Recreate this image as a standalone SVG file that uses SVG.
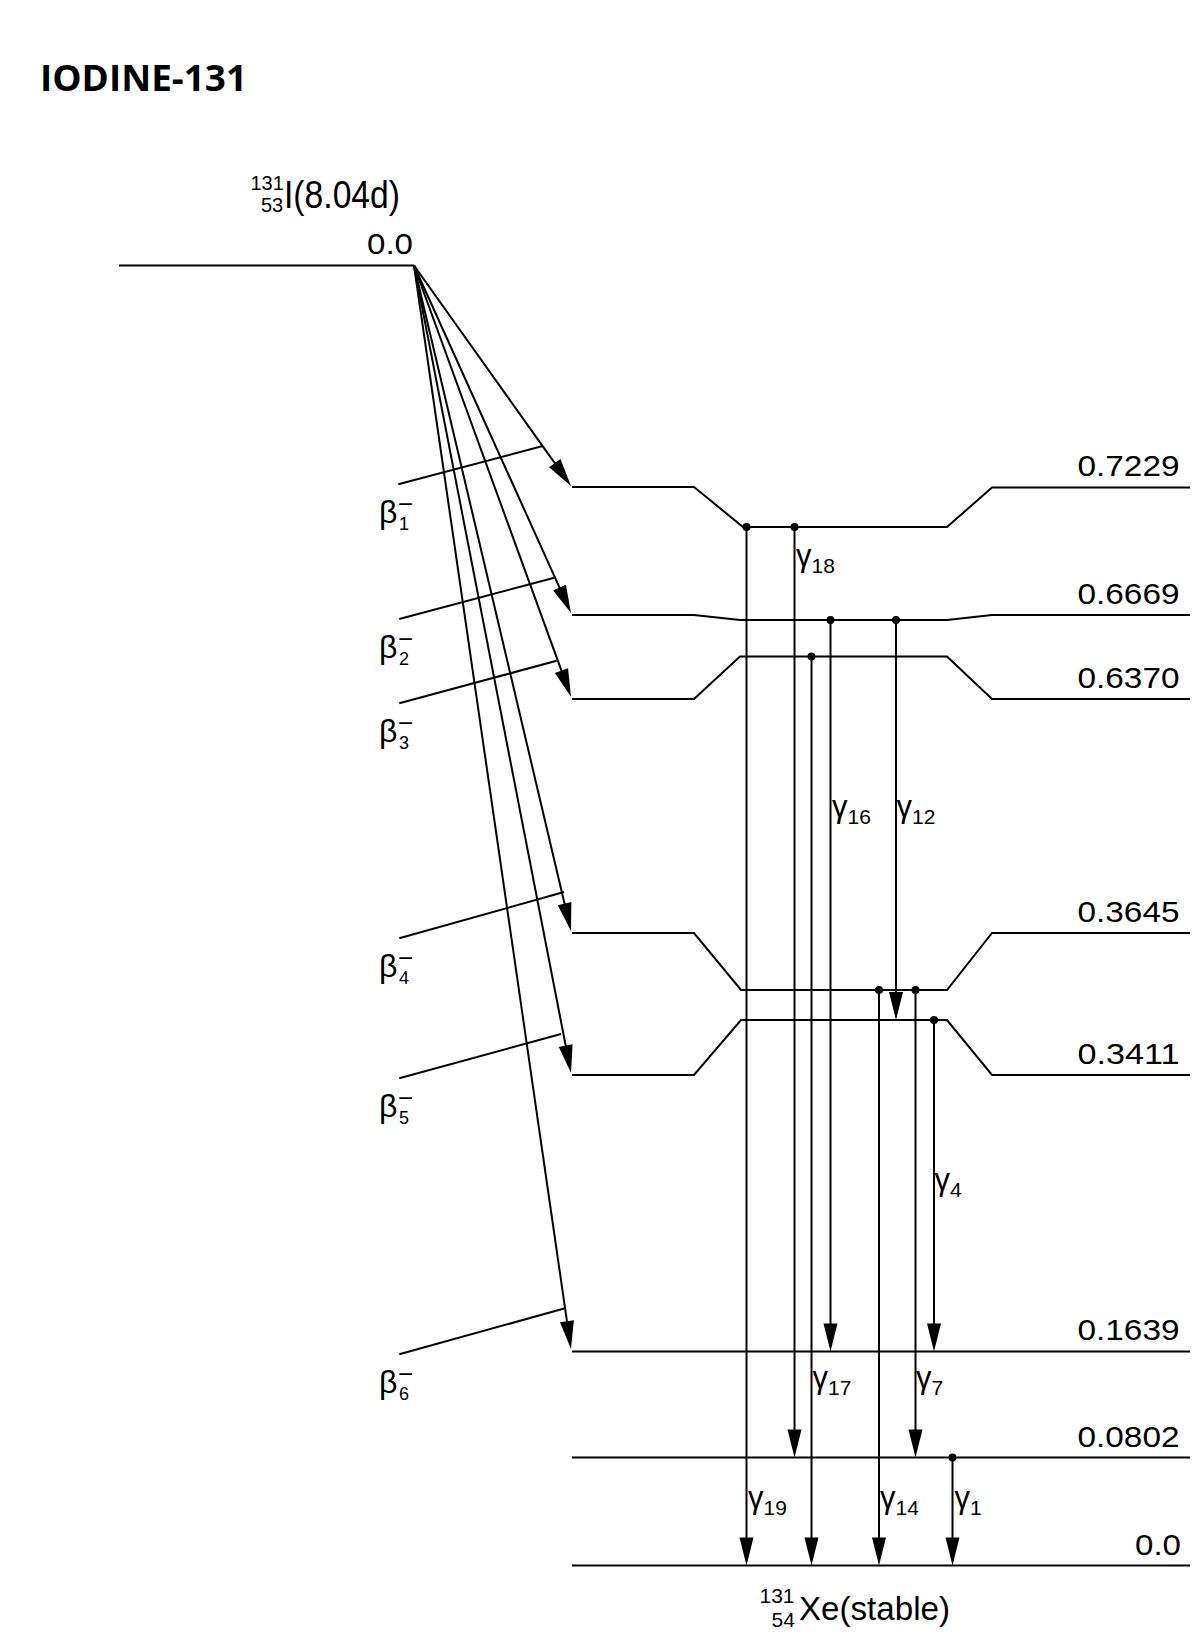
<svg xmlns="http://www.w3.org/2000/svg" width="1202" height="1638" viewBox="0 0 1202 1638">
  <style>
    .lvl { fill: none; stroke: #000; stroke-width: 2; }
    .tr { fill: none; stroke: #000; stroke-width: 2; marker-end: url(#ah); }
    .tick { fill: none; stroke: #000; stroke-width: 2; }
    .dot { fill: #000; }
    .sans { font-family: "Liberation Sans", Arial, Helvetica, sans-serif; fill: #000; }
    .num { font-family: "Liberation Sans", Arial, Helvetica, sans-serif; font-size: 29.5px; fill: #000; text-anchor: end; }
    .lab { font-family: "Liberation Sans", Arial, Helvetica, sans-serif; fill: #000; }
  </style>
  <defs>
    <marker id="ah" markerUnits="userSpaceOnUse" markerWidth="28" markerHeight="14" refX="8" refY="7" orient="auto" overflow="visible">
      <path d="M0,0 L28,7 L0,14 z" fill="#000"/>
    </marker>
  </defs>

  <rect width="1202" height="1638" fill="#fff"/>

  <text x="40" y="90.7" font-family="'Open Sans', 'Liberation Sans', sans-serif" font-weight="bold" font-size="36" textLength="207" lengthAdjust="spacingAndGlyphs">IODINE-131</text>

  <!-- parent state: I-131 -->
  <g id="i131">
    <text class="sans"><tspan font-size="20" x="250.5" y="190">131</tspan><tspan font-size="20" x="261" y="211.7">53</tspan><tspan font-size="38" x="284" y="208.3" textLength="116" lengthAdjust="spacingAndGlyphs">I(8.04d)</tspan></text>
    <text class="num" x="413" y="254" textLength="46" lengthAdjust="spacingAndGlyphs">0.0</text>
    <path class="lvl" d="M119,265.5 H414"/>
  </g>

  <!-- daughter levels of Xe-131 (MeV) -->
  <g id="lvl-7229">
    <path class="lvl" d="M572,487 H694 L743,527 H947 L992,487.5 H1190"/>
    <text class="num" x="1179.5" y="476" textLength="102" lengthAdjust="spacingAndGlyphs">0.7229</text>
  </g>
  <g id="lvl-6669">
    <path class="lvl" d="M572,615 H694 L740,620 H947 L992,615 H1190"/>
    <text class="num" x="1179.5" y="604.3" textLength="102" lengthAdjust="spacingAndGlyphs">0.6669</text>
  </g>
  <g id="lvl-6370">
    <path class="lvl" d="M572,699 H694 L740,656.5 H947 L992,699 H1190"/>
    <text class="num" x="1179.5" y="688.3" textLength="102" lengthAdjust="spacingAndGlyphs">0.6370</text>
  </g>
  <g id="lvl-3645">
    <path class="lvl" d="M572,933 H694 L741,990 H947 L992,933 H1190"/>
    <text class="num" x="1179.5" y="921.7" textLength="102" lengthAdjust="spacingAndGlyphs">0.3645</text>
  </g>
  <g id="lvl-3411">
    <path class="lvl" d="M572,1075 H694 L741,1020 H947 L992,1075 H1190"/>
    <text class="num" x="1179.5" y="1064" textLength="102" lengthAdjust="spacingAndGlyphs">0.3411</text>
  </g>
  <g id="lvl-1639">
    <path class="lvl" d="M572,1351.5 H1190"/>
    <text class="num" x="1179.5" y="1340" textLength="102" lengthAdjust="spacingAndGlyphs">0.1639</text>
  </g>
  <g id="lvl-0802">
    <path class="lvl" d="M572,1457.5 H1190"/>
    <text class="num" x="1179.5" y="1446.7" textLength="102" lengthAdjust="spacingAndGlyphs">0.0802</text>
  </g>
  <g id="lvl-0">
    <path class="lvl" d="M572,1565.5 H1190"/>
    <text class="num" x="1181" y="1555" textLength="46" lengthAdjust="spacingAndGlyphs">0.0</text>
    <text class="sans"><tspan font-size="21" x="759.5" y="1603.3">131</tspan><tspan font-size="21" x="771.5" y="1626.7">54</tspan><tspan font-size="34" x="799" y="1620" textLength="151" lengthAdjust="spacingAndGlyphs">Xe(stable)</tspan></text>
  </g>

  <!-- transitions -->
  <g id="connectors">
    <!-- beta branches from the I-131 ground state -->
    <g id="beta">
      <path class="tr" d="M414,265.5 L559.4,469.7"/>
      <path class="tr" d="M414,265.5 L562.8,594.8"/>
      <path class="tr" d="M414,265.5 L564.2,678.2"/>
      <path class="tr" d="M414,265.5 L566.4,911.5"/>
      <path class="tr" d="M414,265.5 L567.2,1053.4"/>
      <path class="tr" d="M414,265.5 L568.1,1329.2"/>

      <path class="tick" d="M398.3,484.3 L542.7,446"/>
      <path class="tick" d="M399.3,619 L554.3,577.7"/>
      <path class="tick" d="M399.3,703.3 L556.7,660.7"/>
      <path class="tick" d="M399.3,938.3 L564,892"/>
      <path class="tick" d="M399.3,1078.3 L561,1034"/>
      <path class="tick" d="M399.3,1354.3 L565,1308.3"/>

      <!-- beta labels: beta, subscript branch number, superscript minus -->
      <g id="beta-labels">
        <text class="lab" x="379" y="523.3" font-size="32">β<tspan font-size="18" x="399" y="530.3">1</tspan><tspan font-size="26" x="398" y="513.3">−</tspan></text>
        <text class="lab" x="379" y="658" font-size="32">β<tspan font-size="18" x="399" y="665">2</tspan><tspan font-size="26" x="398" y="648">−</tspan></text>
        <text class="lab" x="379" y="742.3" font-size="32">β<tspan font-size="18" x="399" y="749.3">3</tspan><tspan font-size="26" x="398" y="732.3">−</tspan></text>
        <text class="lab" x="379" y="977.3" font-size="32">β<tspan font-size="18" x="399" y="984.3">4</tspan><tspan font-size="26" x="398" y="967.3">−</tspan></text>
        <text class="lab" x="379" y="1117.3" font-size="32">β<tspan font-size="18" x="399" y="1124.3">5</tspan><tspan font-size="26" x="398" y="1107.3">−</tspan></text>
        <text class="lab" x="379" y="1393.3" font-size="32">β<tspan font-size="18" x="399" y="1400.3">6</tspan><tspan font-size="26" x="398" y="1383.3">−</tspan></text>
      </g>
    </g>

    <!-- gamma transitions within Xe-131 -->
    <g id="gamma">
      <path class="tr" d="M746.5,527 V1545.5"/>
      <path class="tr" d="M794.5,527 V1437.5"/>
      <path class="tr" d="M811.5,656.5 V1545.5"/>
      <path class="tr" d="M830.5,620 V1331.5"/>
      <path class="tr" d="M896,620 V1000"/>
      <path class="tr" d="M879,990 V1545.5"/>
      <path class="tr" d="M915.5,990 V1437.5"/>
      <path class="tr" d="M934,1020 V1331.5"/>
      <path class="tr" d="M952.5,1457.5 V1545.5"/>

      <circle class="dot" cx="746.5" cy="527" r="4"/>
      <circle class="dot" cx="794.5" cy="527" r="4"/>
      <circle class="dot" cx="811.5" cy="656.5" r="4"/>
      <circle class="dot" cx="830.5" cy="620" r="4"/>
      <circle class="dot" cx="896" cy="620" r="4"/>
      <circle class="dot" cx="879" cy="990" r="4"/>
      <circle class="dot" cx="915.5" cy="990" r="4"/>
      <circle class="dot" cx="934" cy="1020" r="4"/>
      <circle class="dot" cx="952.5" cy="1457.5" r="4"/>

      <!-- gamma labels: gamma with its line number -->
      <g id="gamma-labels">
        <text class="lab" x="796" y="566" font-size="31">γ<tspan font-size="21" dy="7">18</tspan></text>
        <text class="lab" x="832" y="817" font-size="31">γ<tspan font-size="21" dy="7">16</tspan></text>
        <text class="lab" x="896.5" y="817" font-size="31">γ<tspan font-size="21" dy="7">12</tspan></text>
        <text class="lab" x="934.5" y="1190" font-size="31">γ<tspan font-size="21" dy="7">4</tspan></text>
        <text class="lab" x="812.5" y="1388" font-size="31">γ<tspan font-size="21" dy="7">17</tspan></text>
        <text class="lab" x="916" y="1388" font-size="31">γ<tspan font-size="21" dy="7">7</tspan></text>
        <text class="lab" x="748" y="1508" font-size="31">γ<tspan font-size="21" dy="7">19</tspan></text>
        <text class="lab" x="880" y="1508" font-size="31">γ<tspan font-size="21" dy="7">14</tspan></text>
        <text class="lab" x="954.5" y="1508" font-size="31">γ<tspan font-size="21" dy="7">1</tspan></text>
      </g>
    </g>
  </g>
</svg>
